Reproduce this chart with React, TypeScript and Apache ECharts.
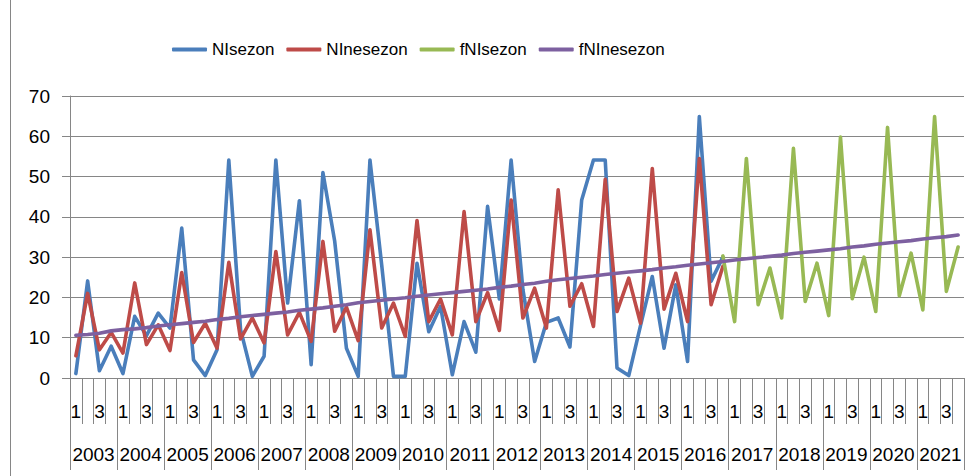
import React, { useEffect, useRef } from "react";
import * as echarts from "echarts";

const years = ["2003","2004","2005","2006","2007","2008","2009","2010","2011","2012","2013","2014","2015","2016","2017","2018","2019","2020","2021"];
const quarters = ["1", "2", "3", "4"];
const seriesNames = ["NIsezon", "NInesezon", "fNIsezon", "fNInesezon"];
const yTicks = [0, 10, 20, 30, 40, 50, 60, 70];

// 2003Q1 .. 2016Q4
const niSezon = [
  1.1, 24.1, 1.8, 7.9, 1.1, 15.3, 10.5, 16.1, 12.4, 37.2, 4.5, 0.6, 7, 54.1, 12, 0.4,
  5.4, 54.1, 18.6, 44, 3.3, 51, 34, 7.4, 0.4, 54.1, 28, 0.4, 0.4, 28.5, 11.5, 17.8,
  0.8, 14, 6.4, 42.6, 19.6, 54.1, 22, 4.1, 13.8, 14.9, 7.7, 44.2, 54.1, 54.1, 2.5, 0.6,
  13, 25.2, 7.4, 23.1, 4.1, 64.9, 24, 30,
];
const niNesezon = [
  5.5, 21, 7, 11.3, 6.2, 23.6, 8.3, 13.2, 6.8, 26.2, 8.8, 13.6, 7.4, 28.7, 9.7, 14.9,
  8.7, 31.4, 10.7, 16.3, 9.1, 33.9, 11.6, 17.6, 9.3, 36.8, 12.4, 18.6, 10.3, 39.1, 14, 19.6,
  10.7, 41.3, 14, 21.2, 11.8, 44.2, 14.9, 22.3, 12.4, 46.7, 17.8, 23.4, 12.8, 49.3, 16.5, 24.8,
  13.6, 52, 17.1, 26, 14, 54.5, 18.2, 27.7,
];
// 2016Q4 .. 2021Q4
const fNiSezon = [
  30.3, 14, 54.5, 18.2, 27.3, 14.9, 57, 19, 28.5, 15.5, 59.8, 19.7, 30, 16.5, 62.2, 20.4,
  31, 16.9, 64.9, 21.5, 32.5,
];
// 2003Q1 .. 2021Q4
const fNiNesezon = [
  10.6, 10.8, 11.1, 11.7, 12.0, 12.2, 12.5, 12.9, 13.2, 13.5, 13.8, 14.1, 14.5, 14.8, 15.2, 15.5,
  15.8, 16.1, 16.4, 16.8, 17.1, 17.4, 17.8, 18.2, 18.7, 19.0, 19.3, 19.6, 19.9, 20.3, 20.6, 20.9,
  21.2, 21.5, 21.8, 22.1, 22.5, 22.8, 23.2, 23.5, 24.0, 24.4, 24.7, 25.0, 25.3, 25.7, 26.0, 26.3,
  26.6, 26.9, 27.3, 27.6, 28.0, 28.3, 28.6, 28.9, 29.3, 29.6, 29.9, 30.2, 30.5, 30.9, 31.2, 31.5,
  31.8, 32.1, 32.5, 32.8, 33.2, 33.5, 33.8, 34.1, 34.5, 34.8, 35.1, 35.5,
];

const colors = ["#4A7EBB", "#BE4B48", "#98B954", "#7D60A0"];

export default function App() {
  const ref = useRef<HTMLDivElement>(null);

  useEffect(() => {
    document.body.style.margin = "0";
    if (!ref.current) return;
    const chart = echarts.init(ref.current, null, { renderer: "svg" });

    const categories = years.flatMap(() => quarters.map((q) => q));
    const n = categories.length;
    const pad = (arr: number[], start: number) => {
      const out: (number | null)[] = [];
      for (let i = 0; i < n; i++) {
        const j = i - start;
        out.push(j >= 0 && j < arr.length ? arr[j] : null);
      }
      return out;
    };
    const forecastStart = n - fNiSezon.length;

    const font = "'Liberation Sans', Arial, sans-serif";
    const gray = "#868686";

    const lineSeries = (name: string, data: (number | null)[], color: string) => ({
      name,
      type: "line",
      data,
      xAxisIndex: 0,
      yAxisIndex: 0,
      symbol: "none",
      connectNulls: false,
      lineStyle: { width: 3.6, color, join: "round", cap: "round" },
      itemStyle: { color },
      emphasis: { disabled: true },
    });

    chart.setOption({
      animation: false,
      backgroundColor: "#ffffff",
      color: colors,
      grid: { left: 70, right: 12, top: 96, bottom: 98, containLabel: false },
      legend: {
        left: 167,
        top: 36,
        itemWidth: 35,
        itemHeight: 4,
        itemGap: 12,
        icon: "roundRect",
        data: seriesNames,
        textStyle: {
          fontFamily: font,
          fontSize: 17,
          color: "#000",
        },
      },
      xAxis: [
        {
          type: "category",
          data: categories,
          position: "bottom",
          boundaryGap: true,
          axisLine: { show: true, lineStyle: { color: gray, width: 1 } },
          axisTick: { show: true, interval: 0, length: 46, lineStyle: { color: gray } },
          axisLabel: {
            interval: (index: number) => index % 2 === 0,
            margin: 24,
            fontFamily: font,
            fontSize: 19,
            color: "#000",
          },
          splitLine: { show: false },
        },
        {
          type: "category",
          data: years,
          position: "bottom",
          boundaryGap: true,
          axisLine: { show: false },
          axisTick: { show: true, interval: 0, length: 92, lineStyle: { color: gray } },
          axisLabel: {
            interval: 0,
            margin: 67,
            fontFamily: font,
            fontSize: 19,
            color: "#000",
          },
          splitLine: { show: false },
        },
      ],
      yAxis: {
        type: "value",
        min: yTicks[0],
        max: yTicks[yTicks.length - 1],
        interval: 10,
        axisLine: { show: true, lineStyle: { color: gray } },
        axisTick: { show: true, length: 8, lineStyle: { color: gray } },
        axisLabel: { margin: 20, fontFamily: font, fontSize: 19, color: "#000" },
        splitLine: { show: true, lineStyle: { color: gray, width: 1 } },
      },
      graphic: [
        {
          type: "line",
          shape: { x1: 10.5, y1: 0, x2: 10.5, y2: 476 },
          style: { stroke: gray, lineWidth: 1 },
        },
      ],
      series: [
        lineSeries(seriesNames[0], pad(niSezon, 0), colors[0]),
        lineSeries(seriesNames[1], pad(niNesezon, 0), colors[1]),
        lineSeries(seriesNames[2], pad(fNiSezon, forecastStart), colors[2]),
        lineSeries(seriesNames[3], pad(fNiNesezon, 0), colors[3]),
      ],
    });

    return () => chart.dispose();
  }, []);

  return <div ref={ref} style={{ width: 976, height: 476 }} />;
}
